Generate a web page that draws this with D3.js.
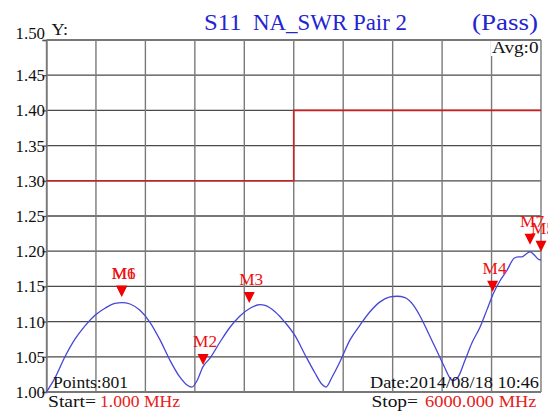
<!DOCTYPE html>
<html><head><meta charset="utf-8">
<script src="https://cdn.jsdelivr.net/npm/d3@7"></script>
<style>
body{margin:0;background:#fff}
svg{display:block}
svg text{font-family:"Liberation Serif","DejaVu Serif","Noto Serif","Times New Roman",serif}
</style>
</head><body>
<svg id="c" width="553" height="412"></svg>
<script>
// ---- data ----
const freqs = [1,104,225,346,468,589,710,831,917,1014,1135,1256,1378,1499,1620,1705,1766,1827,1900,1984,
  2106,2227,2348,2470,2591,2652,2773,2894,3016,3137,3258,3343,3391,3464,3561,3683,3804,3925,4047,4168,
  4253,4350,4447,4532,4629,4726,4823,4896,4932,4993,5078,5163,5260,5345,5418,5503,5588,5673,5722,5770,
  5819,5867,5916,5964,6000];
const swr = [1.000,1.020,1.050,1.075,1.094,1.109,1.119,1.126,1.127,1.125,1.116,1.099,1.074,1.045,1.021,1.010,1.007,1.016,1.036,1.048,
  1.071,1.092,1.108,1.119,1.124,1.123,1.114,1.099,1.080,1.053,1.027,1.011,1.007,1.021,1.043,1.074,1.095,1.114,1.128,1.135,
  1.136,1.134,1.124,1.108,1.085,1.061,1.037,1.020,1.016,1.021,1.045,1.070,1.092,1.117,1.139,1.158,1.173,1.190,1.192,1.192,
  1.196,1.199,1.195,1.189,1.1875];
const limitFreqs = [1, 3000, 3000, 6000];
const limitVals = [1.30, 1.30, 1.40, 1.40];
const markerNames = ["M1","M6","M2","M3","M4","M7","M5"];
const markerFreqs = [913, 913, 1900, 2461, 5413, 5867, 6000];
const markerVals = [1.131, 1.131, 1.034, 1.122, 1.138, 1.205, 1.195];
const yTicks = [1.00,1.05,1.10,1.15,1.20,1.25,1.30,1.35,1.40,1.45,1.50];
const yLabels = ["1.00","1.05","1.10","1.15","1.20","1.25","1.30","1.35","1.40","1.45","1.50"];
const startFreq = 1, stopFreq = 6000, xDivisions = 10;

// ---- layout ----
const FONT = '"Liberation Serif","DejaVu Serif","Noto Serif","Times New Roman",serif';
const svg = d3.select("#c");
const L = 46.5, R = 541, T = 40, B = 392;
const x = d3.scaleLinear().domain([startFreq, stopFreq]).range([L, R]);
const y = d3.scaleLinear().domain([1.0, 1.5]).range([B, T]);
const xGrid = d3.range(xDivisions + 1).map(i => startFreq + i * (stopFreq - startFreq) / xDivisions);

svg.append("defs").append("clipPath").attr("id", "edge")
  .append("rect").attr("x", 0).attr("y", 0).attr("width", 548).attr("height", 412);

function txt(parent, s, x0, y0, size, len, fill) {
  return parent.append("text").attr("x", x0).attr("y", y0).attr("font-size", size)
    .attr("fill", fill || "#111").attr("textLength", len)
    .attr("lengthAdjust", "spacingAndGlyphs").text(s);
}

// grid
svg.append("g").selectAll("line").data(yTicks).join("line")
  .attr("x1", L).attr("x2", R).attr("y1", d => y(d)).attr("y2", d => y(d))
  .attr("stroke", "#4a4a4a").attr("stroke-width", 1.3);
svg.append("g").selectAll("line").data(xGrid).join("line")
  .attr("x1", d => x(d)).attr("x2", d => x(d)).attr("y1", T).attr("y2", B)
  .attr("stroke", "#7a7a7a").attr("stroke-width", 1.4);

// left ticks and labels
const yAxis = d3.axisLeft(y).tickValues(yTicks).tickSize(4).tickFormat((d,i) => yLabels[i]);
const ga = svg.append("g").attr("transform", `translate(${L},0)`).call(yAxis)
  .attr("font-family", FONT);
ga.select(".domain").attr("stroke", "#7a7a7a").attr("stroke-width", 1.4);
ga.selectAll(".tick line").attr("stroke", "#555").attr("stroke-width", 1.3);
ga.selectAll(".tick text").attr("x", -1.5).attr("fill", "#111")
  .style("font-family", FONT).style("font-size", "16px")
  .attr("textLength", 29.5).attr("lengthAdjust", "spacingAndGlyphs")
  .attr("dy", d => d === 1.5 ? "-0.12em" : "0.34em");

// Avg box
svg.append("rect").attr("x", 491).attr("y", 41).attr("width", 49).attr("height", 15).attr("fill", "#fff");
txt(svg, "Avg:0", 492, 53, 16, 46.5);

// limit line
svg.append("path")
  .datum(limitFreqs.map((f, i) => [f, limitVals[i]]))
  .attr("d", d3.line().x(d => x(d[0])).y(d => y(d[1])))
  .attr("fill", "none").attr("stroke", "#cc1f1f").attr("stroke-width", 1.6);

// trace
svg.append("path")
  .datum(freqs.map((f, i) => [f, swr[i]]))
  .attr("d", d3.line().x(d => x(d[0])).y(d => y(d[1])).curve(d3.curveMonotoneX))
  .attr("fill", "none").attr("stroke", "#4646d8").attr("stroke-width", 1.3);

// markers
const mk = svg.append("g");
markerNames.forEach((n, i) => {
  const mx = x(markerFreqs[i]), tip = y(markerVals[i]) - 3;
  mk.append("path")
    .attr("d", `M${mx-5.5},${tip-11}L${mx+5.5},${tip-11}L${mx},${tip}Z`)
    .attr("fill", "#f00000");
  const t = txt(mk, n, mx - 10, tip - 18, 16, 24, "#f01010");
  if (n === "M5") t.attr("clip-path", "url(#edge)");
});

// labels
txt(svg, "Y:", 51.5, 35, 16, 16.5);
const tc = "#2424d0";
txt(svg, "S11", 204, 30, 23, 37.5, tc);
txt(svg, "NA_SWR Pair 2", 253, 30, 23, 154, tc);
txt(svg, "(Pass)", 472, 30, 23, 66, tc);

txt(svg, "Points:801", 53, 388, 17, 75);
txt(svg, "Start=", 48, 407, 17, 48);
txt(svg, "1.000 MHz", 100, 407, 17, 80, "#e82020");
txt(svg, "Date:2014/08/18 10:46", 370, 388, 17, 169);
txt(svg, "Stop=", 371.5, 407, 17, 46.5);
txt(svg, "6000.000 MHz", 425, 407, 17, 111.5, "#e82020");
</script>
</body></html>
